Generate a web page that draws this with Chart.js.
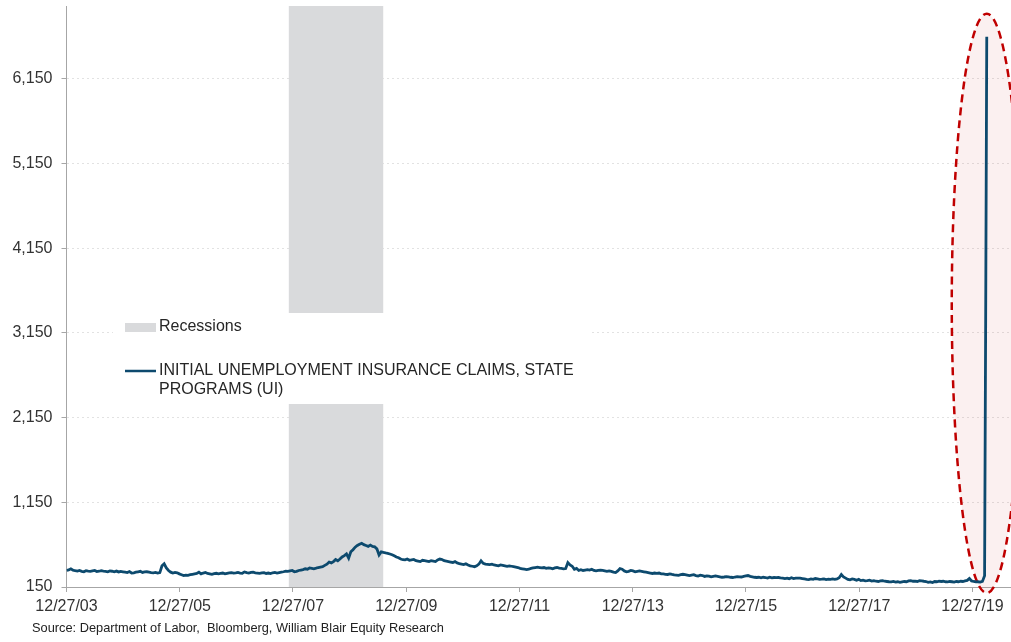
<!DOCTYPE html>
<html>
<head>
<meta charset="utf-8">
<title>Initial Unemployment Insurance Claims</title>
<script src="https://cdn.jsdelivr.net/npm/chart.js@4.4.1/dist/chart.umd.min.js"></script>
<style>
  html, body { margin: 0; padding: 0; background: #fff; }
  canvas { display: block; }
</style>
</head>
<body>
<canvas id="claims" width="1011" height="642"></canvas>
<script>
// Initial claims (thousands, SA), one reading every two weeks from startDate
const startDate = '2003-12-27';
const stepDays = 14;
const claims = [
  345, 352, 365, 348, 342, 338, 345, 335, 330, 342, 338, 335, 340, 345, 332, 336, 342, 338, 335, 330, 340, 336, 330, 338, 328, 335,
  330, 325, 320, 332, 315, 318, 325, 330, 335, 322, 328, 330, 325, 320, 318, 322, 315, 320, 400, 424, 375, 345, 325, 315, 322, 318,
  305, 295, 285, 290, 288, 295, 300, 305, 310, 325, 305, 315, 322, 310, 305, 300, 308, 312, 305, 310, 315, 305, 312, 318, 320, 315,
  318, 322, 315, 312, 328, 320, 315, 322, 325, 318, 315, 312, 318, 320, 310, 315, 308, 318, 322, 315, 320, 325, 330, 338, 335, 340,
  345, 330, 335, 345, 350, 355, 365, 360, 375, 370, 365, 372, 380, 385, 390, 405, 420, 445, 435, 450, 475, 460, 480, 505, 520, 540,
  490, 565, 590, 620, 640, 655, 665, 650, 640, 630, 645, 630, 625, 600, 528, 565, 558, 552, 548, 540, 530, 518, 505, 495, 480, 472,
  470, 480, 465, 470, 475, 460, 455, 450, 465, 460, 455, 450, 460, 455, 450, 470, 480, 475, 460, 455, 450, 445, 440, 450, 435, 425,
  420, 415, 425, 410, 400, 395, 390, 400, 420, 460, 430, 420, 418, 415, 420, 410, 405, 400, 410, 405, 400, 395, 400, 395, 390, 385,
  380, 370, 365, 360, 355, 360, 370, 375, 380, 385, 380, 375, 380, 370, 375, 372, 365, 375, 380, 372, 370, 365, 368, 438, 410, 395,
  360, 370, 345, 355, 345, 350, 355, 350, 360, 345, 340, 345, 350, 345, 340, 335, 340, 335, 325, 320, 340, 368, 360, 340, 330, 335,
  345, 340, 330, 335, 340, 335, 330, 325, 320, 315, 310, 315, 312, 315, 305, 305, 300, 298, 305, 298, 292, 290, 288, 295, 300, 295,
  290, 285, 290, 295, 285, 280, 290, 285, 275, 282, 278, 270, 275, 280, 275, 270, 265, 268, 272, 270, 265, 262, 268, 272, 270, 268,
  275, 280, 285, 275, 270, 265, 262, 265, 258, 265, 262, 255, 265, 258, 262, 260, 262, 258, 255, 250, 255, 248, 260, 250, 255, 255,
  255, 250, 245, 240, 238, 245, 240, 250, 245, 240, 242, 245, 238, 242, 240, 245, 240, 245, 260, 298, 270, 255, 240, 235, 245, 240,
  230, 240, 225, 230, 222, 225, 230, 220, 225, 218, 215, 222, 225, 218, 215, 212, 210, 215, 208, 212, 205, 210, 215, 212, 222, 225,
  218, 220, 215, 225, 222, 218, 215, 205, 210, 202, 215, 212, 220, 215, 218, 212, 210, 215, 212, 208, 215, 212, 218, 215, 222, 228,
  250, 222, 215, 210, 212, 208, 216, 282
];
// weekly prints once the spike starts
const spikeDates = ['2020-03-21', '2020-03-28'];
const spikeClaims = [3307, 6648];

const recession = ['2007-11-30', '2009-07-31'];
const xTickDates = ['2003-12-27', '2005-12-27', '2007-12-27', '2009-12-27', '2011-12-27',
                    '2013-12-27', '2015-12-27', '2017-12-27', '2019-12-27'];
const yTicks = [150, 1150, 2150, 3150, 4150, 5150, 6150];

const lineColor = '#0d4a6e';
const font = '"Liberation Sans", Arial, sans-serif';

// x axis runs in years since startDate
const DAY = 86400000;
const t0 = Date.parse(startDate);
const toYears = d => (Date.parse(d) - t0) / DAY / 365.25;

const points = claims.map((v, i) => ({ x: i * stepDays / 365.25, y: v }));
spikeDates.forEach((d, i) => points.push({ x: toYears(d), y: spikeClaims[i] }));

const tickLabel = d => {
  const [yr, mo, dy] = d.split('-');
  return mo + '/' + dy + '/' + yr.slice(2);
};

const backdrop = {
  id: 'backdrop',
  beforeDatasetsDraw(chart) {
    const { ctx, chartArea: a, scales: { x, y } } = chart;
    ctx.save();

    // recession shading
    const r0 = x.getPixelForValue(toYears(recession[0]));
    const r1 = x.getPixelForValue(toYears(recession[1]));
    ctx.fillStyle = '#d9dadc';
    ctx.fillRect(r0, a.top, r1 - r0, a.bottom - a.top);

    // dashed ellipse around the spike
    const cx = x.getPixelForValue(toYears(spikeDates[1]));
    const top = y.getPixelForValue(spikeClaims[1]) - 23;
    const bottom = a.bottom + 6;
    ctx.beginPath();
    ctx.ellipse(cx, (top + bottom) / 2, 35, (bottom - top) / 2, 0, 0, Math.PI * 2);
    ctx.fillStyle = 'rgba(215, 90, 90, 0.09)';
    ctx.fill();
    ctx.setLineDash([8, 5]);
    ctx.lineWidth = 2.5;
    ctx.strokeStyle = '#c00000';
    ctx.stroke();
    ctx.setLineDash([]);

    // legend
    ctx.fillStyle = '#fff';
    ctx.fillRect(113, 313, 477, 91);
    ctx.fillStyle = '#d9dadc';
    ctx.fillRect(125, 323, 31, 9);
    ctx.strokeStyle = lineColor;
    ctx.lineWidth = 2.5;
    ctx.beginPath();
    ctx.moveTo(125, 371);
    ctx.lineTo(156, 371);
    ctx.stroke();
    ctx.fillStyle = '#262626';
    ctx.font = '16px ' + font;
    ctx.textBaseline = 'middle';
    ctx.textAlign = 'left';
    ctx.fillText('Recessions', 159, 327);
    ctx.fillText('INITIAL UNEMPLOYMENT INSURANCE CLAIMS, STATE', 159, 371);
    ctx.fillText('PROGRAMS (UI)', 159, 390);

    ctx.restore();
  },
  afterDraw(chart) {
    const { ctx } = chart;
    ctx.save();
    ctx.fillStyle = '#222';
    ctx.font = '12.8px ' + font;
    ctx.textBaseline = 'middle';
    ctx.fillText('Source: Department of Labor,  Bloomberg, William Blair Equity Research', 32, 628);
    ctx.restore();
  }
};

new Chart(document.getElementById('claims'), {
  type: 'line',
  data: {
    datasets: [{
      label: 'INITIAL UNEMPLOYMENT INSURANCE CLAIMS, STATE PROGRAMS (UI)',
      data: points,
      borderColor: lineColor,
      borderWidth: 2.8,
      pointRadius: 0,
      tension: 0,
      fill: false
    }]
  },
  options: {
    responsive: false,
    animation: false,
    layout: { padding: { top: 6, right: 0, bottom: 25, left: 0 } },
    plugins: { legend: { display: false }, tooltip: { enabled: false } },
    scales: {
      x: {
        type: 'linear',
        min: 0,
        max: 16.68,
        afterBuildTicks: s => { s.ticks = xTickDates.map(d => ({ value: toYears(d) })); },
        afterFit: s => { s.height = 30; },
        ticks: {
          autoSkip: false,
          maxRotation: 0,
          padding: 5,
          color: '#333',
          font: { family: font, size: 16 },
          callback: (v, i) => tickLabel(xTickDates[i])
        },
        grid: { drawOnChartArea: false, drawTicks: true, tickLength: 5, tickColor: '#a6a6a6' },
        border: { color: '#a6a6a6', width: 1 }
      },
      y: {
        min: 150,
        max: 7010,
        afterBuildTicks: s => { s.ticks = yTicks.map(v => ({ value: v })); },
        afterFit: s => { s.width = 66.5; s.paddingTop = 0; s.paddingBottom = 0; },
        ticks: {
          padding: 9,
          color: '#333',
          font: { family: font, size: 16 },
          callback: v => v.toLocaleString('en-US')
        },
        grid: { color: '#e2e2e2', tickColor: '#a6a6a6', tickLength: 5, tickBorderDash: [] },
        border: { color: '#a6a6a6', width: 1, dash: [2, 3] }
      }
    }
  },
  plugins: [backdrop]
});
</script>
</body>
</html>
